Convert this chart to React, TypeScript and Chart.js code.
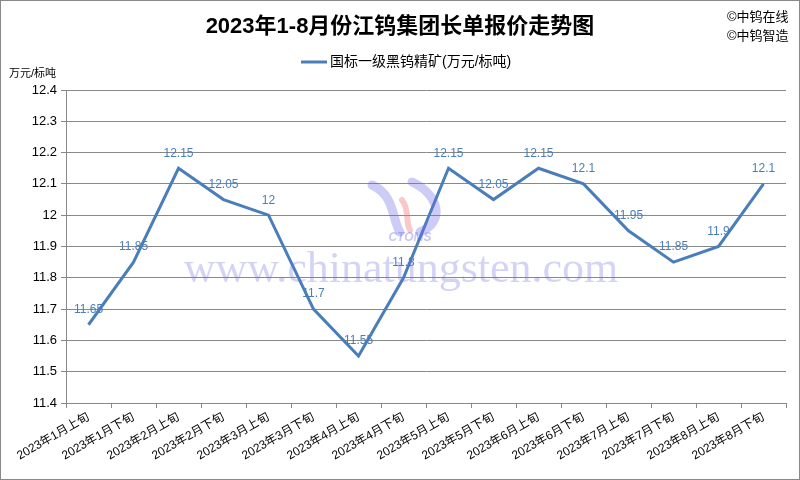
import React, { useEffect, useRef } from "react";
import { Chart, registerables } from "chart.js";

Chart.register(...registerables);

const categories = [
  "2023年1月上旬", "2023年1月下旬", "2023年2月上旬", "2023年2月下旬",
  "2023年3月上旬", "2023年3月下旬", "2023年4月上旬", "2023年4月下旬",
  "2023年5月上旬", "2023年5月下旬", "2023年6月上旬", "2023年6月下旬",
  "2023年7月上旬", "2023年7月下旬", "2023年8月上旬", "2023年8月下旬",
];
const values = [11.65, 11.85, 12.15, 12.05, 12, 11.7, 11.55, 11.8, 12.15, 12.05, 12.15, 12.1, 11.95, 11.85, 11.9, 12.1];
const yMin = 11.4;
const yMax = 12.4;
const yStep = 0.1;
const titleText = "2023年1-8月份江钨集团长单报价走势图";
const seriesName = "国标一级黑钨精矿(万元/标吨)";
const unitText = "万元/标吨";
const copyright = ["©中钨在线", "©中钨智造"];
const watermark = "www.chinatungsten.com";

const FONT = "Arial, 'Liberation Sans', 'Noto Sans CJK SC', sans-serif";
const BLUE = "#4a7ebb";
const GRID = "#888888";

const decor = {
  id: "decor",
  beforeDraw(chart: any) {
    const ctx = chart.ctx;
    ctx.save();
    ctx.fillStyle = "#ffffff";
    ctx.fillRect(0, 0, chart.width, chart.height);
    ctx.restore();
  },
  afterDatasetsDraw(chart: any) {
    const ctx = chart.ctx;
    const meta = chart.getDatasetMeta(0);
    ctx.save();
    // data labels
    ctx.font = `12px ${FONT}`;
    ctx.fillStyle = BLUE;
    ctx.textAlign = "center";
    ctx.textBaseline = "middle";
    meta.data.forEach((pt: any, i: number) => {
      ctx.fillText(String(values[i]), pt.x, pt.y - 15);
    });
    // watermark logo
    const area = chart.chartArea;
    const cx = (area.left + area.right) / 2;
    ctx.lineCap = "round";
    ctx.strokeStyle = "rgba(110,110,230,0.35)";
    ctx.lineWidth = 9;
    ctx.beginPath();
    ctx.moveTo(372, 185);
    ctx.bezierCurveTo(395, 195, 392, 220, 400, 232);
    ctx.stroke();
    ctx.beginPath();
    ctx.moveTo(412, 182);
    ctx.bezierCurveTo(440, 195, 445, 222, 420, 232);
    ctx.stroke();
    ctx.strokeStyle = "rgba(240,120,120,0.4)";
    ctx.lineWidth = 6;
    ctx.beginPath();
    ctx.moveTo(402, 200);
    ctx.bezierCurveTo(410, 210, 405, 222, 410, 230);
    ctx.stroke();
    ctx.font = `italic bold 12px ${FONT}`;
    ctx.fillStyle = "rgba(110,110,230,0.4)";
    ctx.fillText("CTOMS", 410, 238);
    // watermark text
    ctx.font = `44px 'Liberation Serif', 'DejaVu Serif', serif`;
    ctx.fillStyle = "rgba(110,110,225,0.3)";
    ctx.fillText(watermark, cx - 25, 270);
    ctx.restore();
  },
  afterDraw(chart: any) {
    const ctx = chart.ctx;
    ctx.save();
    // title
    ctx.fillStyle = "#000";
    ctx.font = `bold 22px ${FONT}`;
    ctx.textAlign = "center";
    ctx.textBaseline = "middle";
    ctx.fillText(titleText, 400, 27);
    // legend
    ctx.strokeStyle = BLUE;
    ctx.lineWidth = 3;
    ctx.beginPath();
    ctx.moveTo(301, 62);
    ctx.lineTo(327, 62);
    ctx.stroke();
    ctx.font = `14px ${FONT}`;
    ctx.textAlign = "left";
    ctx.fillText(seriesName, 330, 62);
    // unit
    ctx.font = `11px ${FONT}`;
    ctx.fillText(unitText, 9, 74);
    // copyright
    ctx.font = `13px ${FONT}`;
    ctx.fillText(copyright[0], 727, 17);
    ctx.fillText(copyright[1], 727, 36);
    // border
    ctx.strokeStyle = "#888";
    ctx.lineWidth = 1;
    ctx.strokeRect(0.5, 0.5, chart.width - 1, chart.height - 1);
    ctx.restore();
  },
};

export default function App() {
  const ref = useRef<HTMLCanvasElement | null>(null);
  useEffect(() => {
    document.body.style.margin = "0";
    const canvas = ref.current;
    if (!canvas) return;
    const chart = new Chart(canvas, {
      type: "line",
      data: {
        labels: categories,
        datasets: [
          {
            label: seriesName,
            data: values,
            borderColor: BLUE,
            backgroundColor: BLUE,
            borderWidth: 3,
            pointRadius: 0,
            tension: 0,
          },
        ],
      },
      options: {
        responsive: false,
        animation: false,
        devicePixelRatio: 1,
        layout: { padding: { top: 90, right: 14, left: 0, bottom: 0 } },
        plugins: {
          legend: { display: false },
          title: { display: false },
          tooltip: { enabled: false },
        },
        scales: {
          x: {
            type: "category",
            offset: true,
            grid: {
              offset: true,
              drawOnChartArea: false,
              drawTicks: true,
              tickLength: 5,
              color: GRID,
            },
            border: { display: true, color: GRID },
            ticks: {
              autoSkip: false,
              minRotation: 30,
              maxRotation: 30,
              color: "#000",
              font: { size: 12, family: FONT },
              padding: 2,
            },
            afterFit(scale: any) {
              scale.height = 77;
              scale.paddingLeft = 0;
              scale.paddingRight = 0;
            },
          },
          y: {
            min: yMin,
            max: yMax,
            grid: { color: GRID, drawTicks: true, tickLength: 5 },
            border: { display: true, color: GRID },
            ticks: {
              stepSize: yStep,
              color: "#000",
              font: { size: 13, family: FONT },
              padding: 4,
              callback: (v: any) => String(Number(Number(v).toFixed(1))),
            },
            afterFit(scale: any) {
              scale.width = 66;
              scale.paddingTop = 0;
              scale.paddingBottom = 0;
            },
          },
        },
      },
      plugins: [decor],
    });
    return () => chart.destroy();
  }, []);
  return (
    <div style={{ width: 800, height: 480 }}>
      <canvas ref={ref} width={800} height={480} style={{ display: "block" }} />
    </div>
  );
}
